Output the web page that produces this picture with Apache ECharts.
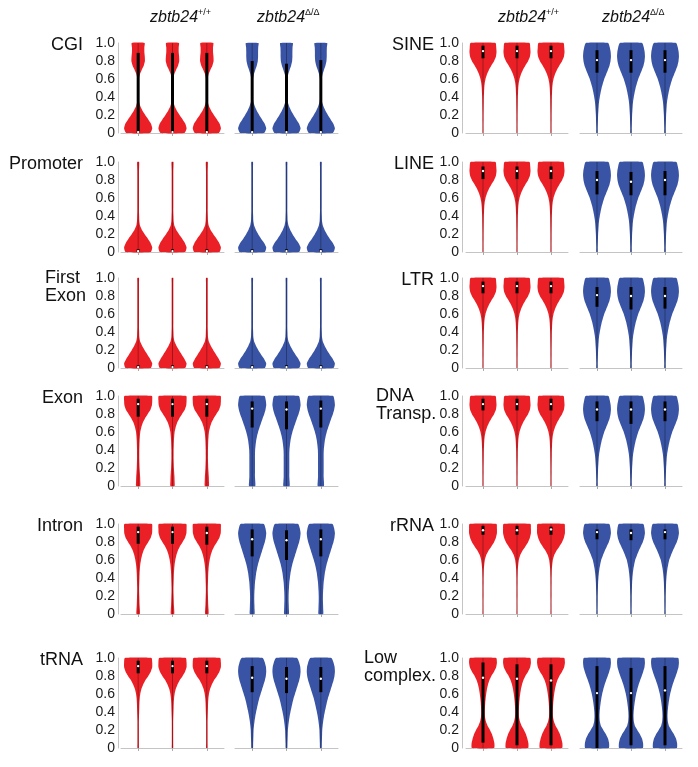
<!DOCTYPE html>
<html>
<head>
<meta charset="utf-8">
<script src="https://cdn.jsdelivr.net/npm/echarts@6/dist/echarts.min.js"></script>
<style>
html,body{margin:0;padding:0;background:#fff;}
#chart{width:698px;height:767px;}
</style>
</head>
<body>
<div id="chart"></div>
<script>
// ---------- DATA ----------
// y levels at which violin widths (relative density, 1 = widest) are read
const levels = [0,0.05,0.1,0.15,0.2,0.25,0.3,0.35,0.4,0.45,0.5,0.55,0.6,0.65,0.7,0.75,0.8,0.85,0.9,0.95,1.0];
const yTicks = [0, 0.2, 0.4, 0.6, 0.8, 1.0];
const violinCats = ['1', '2', '3'];
const panelNames = ['CGI','Promoter','First\nExon','Exon','Intron','tRNA','SINE','LINE','LTR','DNA\nTransp.','rRNA','Low\ncomplex.'];
const groupLabels = ['+/+', '\u0394/\u0394'];
const geneName = 'zbtb24';
const whisker = [0, 1];

// density profiles: WT (red) and KO (blue)
const cgiWT  = [0.85,1.0,0.92,0.72,0.5,0.3,0.15,0.06,0.03,0.025,0.025,0.03,0.05,0.12,0.25,0.4,0.48,0.47,0.44,0.44,0.46];
const cgiKO  = [0.85,1.0,0.9,0.7,0.5,0.32,0.18,0.08,0.04,0.03,0.03,0.04,0.06,0.12,0.22,0.33,0.4,0.42,0.42,0.43,0.45];
const promWT = [0.9,1.0,0.88,0.68,0.45,0.25,0.12,0.08,0.07,0.06,0.06,0.06,0.06,0.06,0.06,0.06,0.06,0.06,0.06,0.07,0.07];
const promKO = [0.9,1.0,0.85,0.62,0.42,0.25,0.13,0.08,0.07,0.06,0.06,0.06,0.06,0.06,0.06,0.06,0.06,0.06,0.06,0.06,0.06];
const fexWT  = [0.9,1.0,0.85,0.65,0.45,0.27,0.13,0.08,0.07,0.06,0.06,0.06,0.06,0.06,0.06,0.06,0.06,0.06,0.06,0.06,0.06];
const fexKO  = [0.9,1.0,0.85,0.63,0.43,0.26,0.13,0.08,0.07,0.06,0.06,0.06,0.06,0.06,0.06,0.06,0.06,0.06,0.06,0.06,0.06];
const exonWT = [0.15,0.15,0.14,0.12,0.1,0.09,0.08,0.08,0.08,0.09,0.1,0.12,0.15,0.22,0.32,0.48,0.68,0.88,0.98,1.0,0.98];
const exonKO = [0.22,0.22,0.2,0.2,0.2,0.2,0.2,0.2,0.21,0.24,0.28,0.34,0.42,0.52,0.63,0.74,0.86,0.95,1.0,0.97,0.88];
const intrWT = [0.12,0.12,0.1,0.09,0.08,0.07,0.07,0.08,0.09,0.1,0.12,0.15,0.2,0.27,0.37,0.52,0.72,0.9,0.99,1.0,0.98];
const intrKO = [0.17,0.17,0.16,0.15,0.15,0.16,0.18,0.2,0.24,0.28,0.34,0.41,0.5,0.6,0.7,0.8,0.9,0.97,1.0,0.95,0.83];
const trnaWT = [0.05,0.05,0.05,0.05,0.05,0.05,0.05,0.06,0.07,0.08,0.09,0.11,0.15,0.22,0.34,0.5,0.72,0.9,1.0,1.0,0.95];
const trnaKO = [0.06,0.07,0.08,0.09,0.1,0.13,0.17,0.22,0.28,0.35,0.42,0.5,0.6,0.7,0.8,0.9,0.97,1.0,0.98,0.9,0.75];
const sineWT = [0.03,0.035,0.035,0.04,0.04,0.045,0.05,0.055,0.06,0.075,0.09,0.12,0.18,0.28,0.42,0.6,0.8,0.93,0.97,0.95,0.9];
const sineKO = [0.05,0.05,0.06,0.07,0.08,0.1,0.12,0.15,0.2,0.26,0.33,0.42,0.52,0.65,0.78,0.9,0.97,1.0,0.98,0.92,0.8];
const lineWT = [0.03,0.035,0.035,0.04,0.04,0.045,0.05,0.055,0.06,0.075,0.09,0.12,0.18,0.28,0.42,0.6,0.8,0.93,0.97,0.95,0.9];
const lineKO = [0.05,0.05,0.06,0.07,0.08,0.1,0.12,0.15,0.2,0.26,0.33,0.42,0.52,0.65,0.78,0.9,0.97,1.0,0.98,0.92,0.82];
const ltrWT  = [0.03,0.035,0.035,0.04,0.04,0.045,0.05,0.055,0.06,0.075,0.09,0.12,0.18,0.28,0.42,0.6,0.8,0.93,0.97,0.95,0.9];
const ltrKO  = [0.05,0.05,0.06,0.07,0.08,0.1,0.12,0.15,0.2,0.26,0.33,0.42,0.52,0.65,0.78,0.9,0.97,1.0,0.98,0.92,0.82];
const dnaWT  = [0.03,0.035,0.035,0.04,0.04,0.045,0.05,0.055,0.06,0.075,0.09,0.12,0.18,0.28,0.42,0.6,0.8,0.93,0.97,0.95,0.9];
const dnaKO  = [0.05,0.05,0.06,0.07,0.08,0.1,0.12,0.15,0.2,0.26,0.33,0.42,0.52,0.65,0.78,0.9,0.97,1.0,0.98,0.92,0.82];
const rrnaWT = [0.03,0.03,0.03,0.03,0.035,0.035,0.035,0.04,0.04,0.05,0.06,0.09,0.13,0.22,0.38,0.6,0.8,0.93,1.0,1.0,0.97];
const rrnaKO = [0.04,0.04,0.045,0.05,0.05,0.06,0.07,0.08,0.1,0.13,0.17,0.23,0.3,0.42,0.55,0.7,0.85,0.95,1.0,0.97,0.88];
const lowWT  = [0.8,0.82,0.75,0.65,0.5,0.32,0.2,0.14,0.13,0.14,0.16,0.19,0.23,0.28,0.35,0.45,0.6,0.8,0.95,1.0,0.95];
const lowKO  = [0.85,0.87,0.8,0.65,0.45,0.27,0.2,0.18,0.19,0.22,0.26,0.31,0.37,0.45,0.54,0.65,0.77,0.88,0.97,1.0,0.95];

// box stats per violin (3 WT then 3 KO): [q1, median, q3]
const cgiBox  = [[0,0.01,0.89],[0,0.01,0.89],[0,0.01,0.89],[0,0.01,0.8],[0,0.01,0.77],[0,0.01,0.81]];
const promBox = [[0,0.01,0.03],[0,0.01,0.03],[0,0.01,0.03],[0,0.01,0.03],[0,0.01,0.03],[0,0.01,0.03]];
const fexBox  = [[0,0.01,0.03],[0,0.01,0.03],[0,0.01,0.03],[0,0.01,0.03],[0,0.01,0.03],[0,0.01,0.03]];
const exonBox = [[0.77,0.91,0.97],[0.77,0.91,0.97],[0.77,0.91,0.97],[0.65,0.86,0.94],[0.63,0.85,0.94],[0.65,0.86,0.95]];
const intrBox = [[0.78,0.91,0.97],[0.78,0.91,0.97],[0.77,0.9,0.97],[0.64,0.83,0.94],[0.6,0.82,0.93],[0.64,0.83,0.94]];
const trnaBox = [[0.83,0.91,0.97],[0.83,0.91,0.97],[0.83,0.91,0.97],[0.62,0.78,0.91],[0.61,0.77,0.9],[0.62,0.77,0.9]];
const sineBox = [[0.83,0.91,0.97],[0.83,0.91,0.97],[0.83,0.91,0.97],[0.67,0.81,0.92],[0.67,0.81,0.92],[0.67,0.81,0.92]];
const lineBox = [[0.81,0.9,0.95],[0.81,0.9,0.95],[0.81,0.9,0.95],[0.64,0.8,0.9],[0.63,0.78,0.89],[0.63,0.8,0.9]];
const ltrBox  = [[0.83,0.91,0.96],[0.83,0.91,0.96],[0.83,0.91,0.96],[0.68,0.81,0.9],[0.65,0.8,0.9],[0.66,0.8,0.9]];
const dnaBox  = [[0.84,0.91,0.97],[0.84,0.91,0.97],[0.84,0.91,0.97],[0.72,0.85,0.94],[0.69,0.85,0.94],[0.72,0.85,0.94]];
const rrnaBox = [[0.88,0.93,0.98],[0.88,0.93,0.98],[0.88,0.94,0.97],[0.83,0.91,0.94],[0.82,0.9,0.94],[0.83,0.91,0.94]];
const lowBox  = [[0.06,0.78,0.95],[0.03,0.77,0.93],[0.03,0.75,0.93],[0,0.61,0.91],[0.03,0.61,0.89],[0.03,0.64,0.91]];

// ---------- ASSEMBLY ----------
const panelDens = [[cgiWT,cgiKO],[promWT,promKO],[fexWT,fexKO],[exonWT,exonKO],[intrWT,intrKO],[trnaWT,trnaKO],
                   [sineWT,sineKO],[lineWT,lineKO],[ltrWT,ltrKO],[dnaWT,dnaKO],[rrnaWT,rrnaKO],[lowWT,lowKO]];
const panelBox = [cgiBox,promBox,fexBox,exonBox,intrBox,trnaBox,sineBox,lineBox,ltrBox,dnaBox,rrnaBox,lowBox];

const RED = '#EB2027', BLUE = '#3A54A5';
const FONT = '"Liberation Sans", Arial, Helvetica, sans-serif';
const rowTop = [43, 162, 278, 396, 524, 658];
const plotH = 90;
const cols = [
  {left: [121, 235], w: 103, yOff: 3, titleRight: 83, titleLeft2: 45, headX: [150, 257]},
  {left: [466, 580], w: 102, yOff: 4, titleRight: 434, titleLeft2: [376, 364], headX: [498, 602]}
];

const grids = [], xAxes = [], yAxes = [], series = [], graphics = [];

function makeRender(dens, boxes, color, base) {
  return function (params, api) {
    const i = api.value(0);
    const cx = api.coord([i, 0])[0];
    const band = api.size([1, 0])[0];
    const hw = band * 0.41;
    const right = [], left = [];
    for (let k = 0; k < levels.length; k++) {
      const y = api.coord([i, levels[k]])[1];
      right.push([cx + dens[k] * hw, y]);
      left.push([cx - dens[k] * hw, y]);
    }
    const pts = right.concat(left.reverse());
    const b = boxes[base + i];
    const yq1 = api.coord([i, b[0]])[1];
    const ymed = api.coord([i, b[1]])[1];
    const yq3 = api.coord([i, b[2]])[1];
    const yw0 = api.coord([i, whisker[0]])[1];
    const yw1 = api.coord([i, whisker[1]])[1];
    return {
      type: 'group',
      children: [
        {type: 'polygon', shape: {points: pts, smooth: 0.15}, style: {fill: color}},
        {type: 'line', shape: {x1: cx, y1: yw0, x2: cx, y2: yw1}, style: {stroke: 'rgba(0,0,0,0.4)', lineWidth: 0.8}},
        {type: 'rect', shape: {x: cx - 1.5, y: yq3, width: 3, height: Math.max(1, yq1 - yq3)}, style: {fill: '#000'}},
        {type: 'circle', shape: {cx: cx, cy: ymed, r: 1.2}, style: {fill: '#fff'}}
      ]
    };
  };
}

for (let p = 0; p < 12; p++) {
  const c = p < 6 ? 0 : 1;
  const r = p % 6;
  const col = cols[c];
  for (let g = 0; g < 2; g++) {
    const idx = grids.length;
    grids.push({left: col.left[g], top: rowTop[r], width: col.w, height: plotH});
    xAxes.push({
      type: 'category', gridIndex: idx, data: violinCats, offset: 3,
      axisLine: {show: true, lineStyle: {color: '#c4c4c4', width: 1}},
      axisTick: {show: true, alignWithLabel: true, length: 3, lineStyle: {color: '#aaa'}},
      axisLabel: {show: false}, splitLine: {show: false}
    });
    yAxes.push({
      type: 'value', gridIndex: idx, min: 0, max: 1, interval: 0.2,
      show: g === 0, offset: col.yOff,
      axisLine: {show: true, lineStyle: {color: '#c4c4c4', width: 1}},
      axisTick: {show: false}, splitLine: {show: false},
      axisLabel: {
        show: true, margin: 3, fontSize: 14, color: '#1a1a1a', fontFamily: FONT,
        customValues: yTicks,
        formatter: v => (Math.abs(v) < 1e-9 ? '0' : v.toFixed(1))
      }
    });
    series.push({
      type: 'custom', xAxisIndex: idx, yAxisIndex: idx,
      renderItem: makeRender(panelDens[p][g], panelBox[p], g === 0 ? RED : BLUE, g * 3),
      data: violinCats.map((_, i) => [i]),
      silent: true, animation: false, clip: false
    });
  }
  // panel title
  const name = panelNames[p];
  if (name.indexOf('\n') < 0) {
    graphics.push({type: 'text', x: col.titleRight, y: rowTop[r] + 2,
      style: {text: name, fontSize: 18, fontFamily: FONT, fill: '#111', textAlign: 'right', textVerticalAlign: 'middle'}});
  } else {
    let lx = col.titleLeft2;
    if (Array.isArray(lx)) lx = (p === 9) ? lx[0] : lx[1];
    graphics.push({type: 'text', x: lx, y: rowTop[r] + 9,
      style: {text: name, fontSize: 18, lineHeight: 18.5, fontFamily: FONT, fill: '#111', textAlign: 'left', textVerticalAlign: 'middle'}});
  }
}

// group headers
for (let c = 0; c < 2; c++) {
  for (let g = 0; g < 2; g++) {
    graphics.push({
      type: 'text', x: cols[c].headX[g], y: 18,
      style: {
        text: '{m|' + geneName + '}{s|' + groupLabels[g] + '}',
        textVerticalAlign: 'middle', textAlign: 'left',
        rich: {
          m: {fontSize: 16, fontStyle: 'italic', fontFamily: FONT, fill: '#111', lineHeight: 20, verticalAlign: 'middle'},
          s: {fontSize: 9, fontFamily: FONT, fill: '#111', lineHeight: 10, verticalAlign: 'top'}
        }
      }
    });
  }
}

const chart = echarts.init(document.getElementById('chart'), null, {renderer: 'canvas'});
chart.setOption({
  backgroundColor: '#fff',
  animation: false,
  grid: grids, xAxis: xAxes, yAxis: yAxes, series: series,
  graphic: graphics
});
</script>
</body>
</html>
